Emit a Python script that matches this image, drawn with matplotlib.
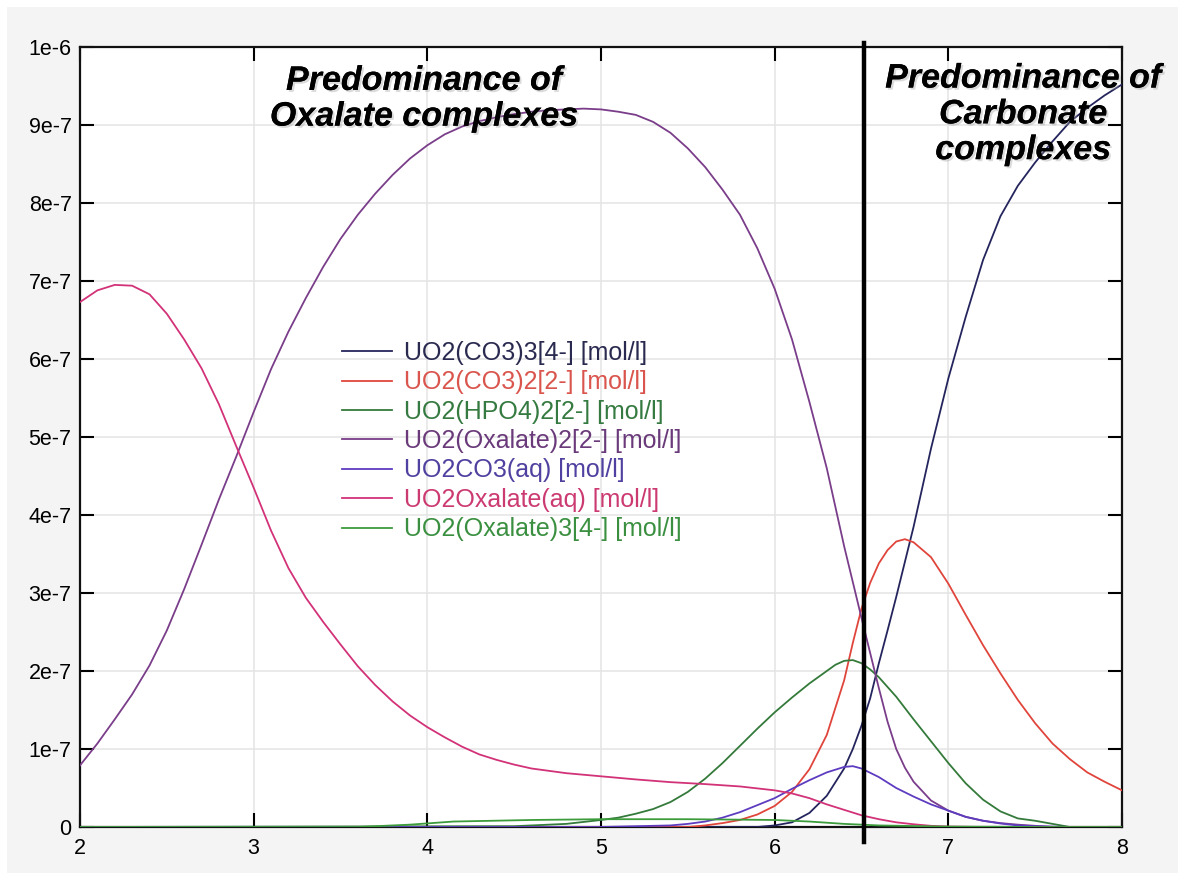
import matplotlib
matplotlib.use("Agg")
import matplotlib.pyplot as plt
import matplotlib.patheffects as pe
from matplotlib.patches import Rectangle
from matplotlib.lines import Line2D

SCALE = 1e-7  # values below are in units of 1e-7 mol/l

# UO2(CO3)3[4-]
ph_co3_3 = [2.0, 5.9, 6.0, 6.1, 6.2, 6.3, 6.4, 6.45, 6.5, 6.55, 6.6, 6.65, 6.7, 6.8, 6.9, 7.0, 7.1, 7.2, 7.3, 7.4, 7.5, 7.6, 7.7, 7.8, 7.9, 8.0]
c_co3_3 = [0.0, 0.0, 0.02, 0.06, 0.18, 0.40, 0.75, 1.00, 1.30, 1.65, 2.10, 2.52, 2.95, 3.85, 4.85, 5.75, 6.54, 7.27, 7.83, 8.22, 8.52, 8.79, 9.04, 9.22, 9.38, 9.52]

# UO2(CO3)2[2-]
ph_co3_2 = [2.0, 5.5, 5.6, 5.7, 5.8, 5.9, 6.0, 6.1, 6.2, 6.3, 6.4, 6.45, 6.5, 6.55, 6.6, 6.65, 6.7, 6.75, 6.8, 6.9, 7.0, 7.1, 7.2, 7.3, 7.4, 7.5, 7.6, 7.7, 7.8, 7.9, 8.0]
c_co3_2 = [0.0, 0.0, 0.02, 0.05, 0.09, 0.16, 0.27, 0.45, 0.74, 1.18, 1.88, 2.36, 2.80, 3.13, 3.38, 3.55, 3.66, 3.69, 3.65, 3.46, 3.12, 2.72, 2.33, 1.97, 1.63, 1.33, 1.07, 0.87, 0.70, 0.58, 0.47]

# UO2(HPO4)2[2-]
ph_hpo4 = [2.0, 4.5, 4.8, 5.0, 5.1, 5.2, 5.3, 5.4, 5.5, 5.6, 5.7, 5.8, 5.9, 6.0, 6.1, 6.2, 6.3, 6.35, 6.4, 6.45, 6.5, 6.55, 6.6, 6.7, 6.8, 6.9, 7.0, 7.1, 7.2, 7.3, 7.4, 7.5, 7.6, 7.7, 8.0]
c_hpo4 = [0.0, 0.01, 0.04, 0.09, 0.12, 0.17, 0.23, 0.32, 0.45, 0.62, 0.82, 1.04, 1.26, 1.47, 1.66, 1.84, 2.00, 2.08, 2.13, 2.14, 2.10, 2.02, 1.92, 1.67, 1.38, 1.10, 0.82, 0.56, 0.35, 0.20, 0.11, 0.08, 0.04, 0.0, 0.0]

# UO2(Oxalate)2[2-]
ph_ox2 = [2.0, 2.1, 2.2, 2.3, 2.4, 2.5, 2.6, 2.7, 2.8, 2.9, 3.0, 3.1, 3.2, 3.3, 3.4, 3.5, 3.6, 3.7, 3.8, 3.9, 4.0, 4.1, 4.2, 4.3, 4.4, 4.5, 4.6, 4.7, 4.8, 4.9, 5.0, 5.1, 5.2, 5.3, 5.4, 5.5, 5.6, 5.7, 5.8, 5.9, 6.0, 6.1, 6.2, 6.3, 6.4, 6.5, 6.6, 6.65, 6.7, 6.75, 6.8, 6.9, 7.0, 7.1, 7.2, 7.3, 7.4, 7.6, 8.0]
c_ox2 = [0.79, 1.07, 1.38, 1.70, 2.07, 2.52, 3.05, 3.62, 4.20, 4.75, 5.32, 5.87, 6.35, 6.78, 7.18, 7.54, 7.85, 8.12, 8.36, 8.57, 8.74, 8.88, 8.98, 9.05, 9.10, 9.14, 9.17, 9.19, 9.20, 9.21, 9.20, 9.17, 9.13, 9.04, 8.90, 8.70, 8.46, 8.17, 7.85, 7.42, 6.90, 6.25, 5.45, 4.60, 3.60, 2.68, 1.78, 1.35, 1.00, 0.76, 0.58, 0.34, 0.21, 0.13, 0.08, 0.05, 0.03, 0.0, 0.0]

# UO2CO3(aq)
ph_co3aq = [2.0, 5.0, 5.4, 5.5, 5.6, 5.7, 5.8, 5.9, 6.0, 6.1, 6.2, 6.3, 6.4, 6.45, 6.5, 6.6, 6.7, 6.8, 6.9, 7.0, 7.1, 7.2, 7.3, 7.4, 7.5, 7.7, 8.0]
c_co3aq = [0.0, 0.0, 0.02, 0.04, 0.07, 0.12, 0.19, 0.28, 0.37, 0.49, 0.60, 0.70, 0.77, 0.78, 0.75, 0.64, 0.50, 0.39, 0.29, 0.21, 0.13, 0.08, 0.045, 0.02, 0.01, 0.0, 0.0]

# UO2Oxalate(aq)
ph_ox1 = [2.0, 2.1, 2.2, 2.3, 2.4, 2.5, 2.6, 2.7, 2.8, 2.9, 3.0, 3.1, 3.2, 3.3, 3.4, 3.5, 3.6, 3.7, 3.8, 3.9, 4.0, 4.1, 4.2, 4.3, 4.4, 4.5, 4.6, 4.7, 4.8, 4.9, 5.0, 5.2, 5.4, 5.6, 5.8, 6.0, 6.1, 6.2, 6.3, 6.4, 6.5, 6.6, 6.7, 6.8, 6.9, 7.0, 7.2, 8.0]
c_ox1 = [6.73, 6.88, 6.95, 6.94, 6.83, 6.58, 6.25, 5.88, 5.42, 4.88, 4.35, 3.80, 3.32, 2.94, 2.63, 2.34, 2.06, 1.82, 1.61, 1.43, 1.28, 1.15, 1.03, 0.93, 0.86, 0.80, 0.75, 0.72, 0.69, 0.67, 0.65, 0.61, 0.575, 0.55, 0.52, 0.47, 0.43, 0.37, 0.29, 0.22, 0.15, 0.10, 0.06, 0.035, 0.015, 0.005, 0.0, 0.0]

# UO2(Oxalate)3[4-]
ph_ox3 = [2.0, 3.6, 3.9, 4.15, 4.6, 5.0, 5.5, 6.0, 6.2, 6.4, 6.6, 7.0, 7.5, 8.0]
c_ox3 = [0.0, 0.0, 0.03, 0.07, 0.09, 0.10, 0.10, 0.09, 0.07, 0.04, 0.02, 0.005, 0.0, 0.0]

labels = ["UO2(CO3)3[4-] [mol/l]", "UO2(CO3)2[2-] [mol/l]", "UO2(HPO4)2[2-] [mol/l]",
          "UO2(Oxalate)2[2-] [mol/l]", "UO2CO3(aq) [mol/l]", "UO2Oxalate(aq) [mol/l]",
          "UO2(Oxalate)3[4-] [mol/l]"]
colors = ["#25255e", "#e0453c", "#347a3a", "#7a3d8a", "#5e3cc0", "#d23278", "#3c9c3c"]
text_colors = ["#2a2a50", "#d9554d", "#357a40", "#6a3a7a", "#5040a0", "#cc3a72", "#3a9040"]

xticks = [2, 3, 4, 5, 6, 7, 8]
yticks = [i * 1e-7 for i in range(11)]
ytick_labels = ["0", "1e-7", "2e-7", "3e-7", "4e-7", "5e-7", "6e-7", "7e-7", "8e-7", "9e-7", "1e-6"]
boundary_ph = 6.514

plt.rcParams['font.family'] = ['Liberation Sans', 'DejaVu Sans']

W, H = 1178, 873
fig = plt.figure(figsize=(W / 100, H / 100), dpi=100, facecolor="white")
fig.patches.append(Rectangle((7 / W, 0), 1, 1 - 7 / H, transform=fig.transFigure,
                             facecolor="#f4f4f4", edgecolor="none", zorder=-10))

ax = fig.add_axes([80 / W, 1 - 827 / H, (1122 - 80) / W, (827 - 47) / H])
ax.set_facecolor("white")

series = [(ph_co3_3, c_co3_3), (ph_co3_2, c_co3_2), (ph_hpo4, c_hpo4), (ph_ox2, c_ox2),
          (ph_co3aq, c_co3aq), (ph_ox1, c_ox1), (ph_ox3, c_ox3)]
handles = []
for (xs, ys), col, lab in zip(series, colors, labels):
    ln, = ax.plot(xs, [v * SCALE for v in ys], color=col, lw=1.3, label=lab, zorder=3,
                  solid_joinstyle="round")
    handles.append(ln)

ax.set_xlim(2, 8)
ax.set_ylim(0, 1e-6)
ax.set_xticks(xticks)
ax.set_xticklabels([str(t) for t in xticks])
ax.set_yticks(yticks)
ax.set_yticklabels(ytick_labels)
ax.grid(True, color="#e4e4e4", lw=1.1, zorder=0)
ax.tick_params(direction="in", top=True, right=True, length=10, width=1.5,
               labelsize=15.5, colors="black", pad=6)
ax.tick_params(axis="x", pad=8)
for sp in ax.spines.values():
    sp.set_linewidth(1.6)
    sp.set_color("#111111")

# boundary line
ax.add_line(Line2D([boundary_ph, boundary_ph], [-0.019, 1.005], transform=ax.get_xaxis_transform(),
                   color="black", lw=3.2, clip_on=False, zorder=5))

shadow = [pe.withSimplePatchShadow(offset=(1.5, -1.5), shadow_rgbFace="#999999", alpha=0.35), pe.Normal()]
ax.text(3.98, 0.933e-6, "Predominance of\nOxalate complexes", ha="center", va="center",
        fontsize=24.5, fontweight="bold", fontstyle="italic", linespacing=1.2,
        path_effects=shadow, zorder=6)
ax.text(7.43, 0.913e-6, "Predominance of\nCarbonate\ncomplexes", ha="center", va="center",
        fontsize=24.5, fontweight="bold", fontstyle="italic", linespacing=1.2,
        path_effects=shadow, zorder=6, clip_on=False)

leg = fig.legend(handles=handles, loc="upper left", bbox_to_anchor=(342 / W, 1 - 341 / H),
                 frameon=False, fontsize=18, handlelength=2.0, handletextpad=0.5,
                 labelspacing=0.215, borderpad=0, borderaxespad=0)
for t, c in zip(leg.get_texts(), text_colors):
    t.set_color(c)

fig.savefig("out.png", dpi=100, facecolor=fig.get_facecolor())
